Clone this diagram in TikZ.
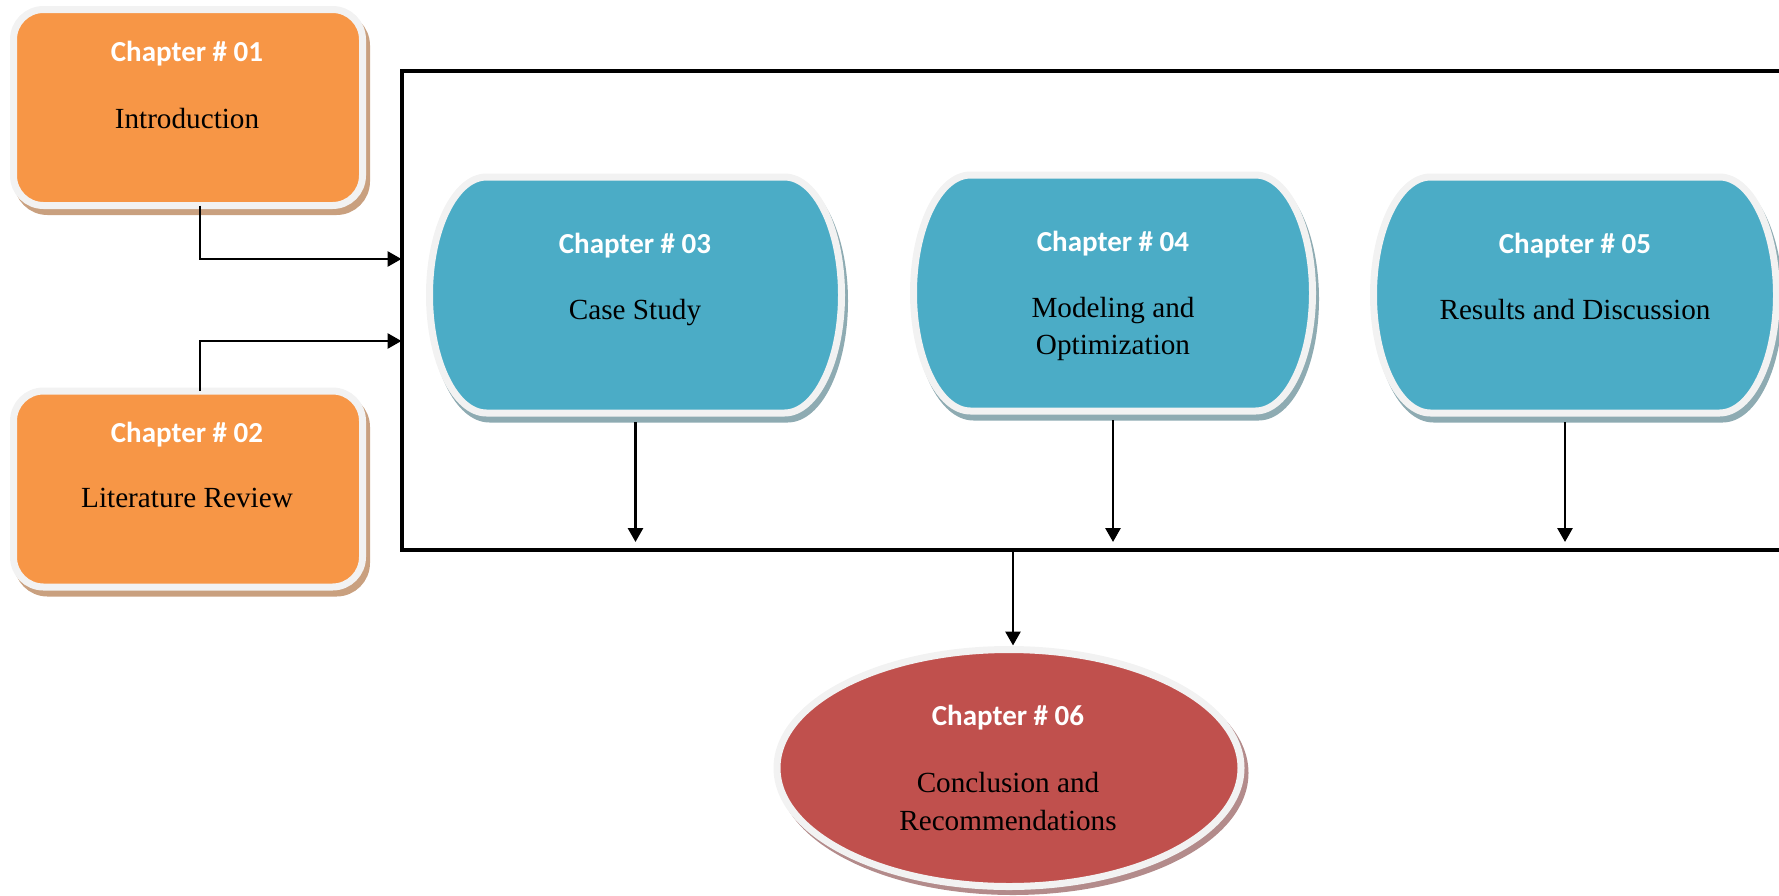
\documentclass[tikz,border=0pt]{standalone}
\usepackage{fontspec}
\setmainfont{Liberation Serif}
\newfontfamily\chapfont{Carlito}
\usetikzlibrary{arrows.meta,calc,shapes.geometric}
\pgfdeclarelayer{background}
\pgfsetlayers{background,main}

\definecolor{orangefill}{HTML}{F79646}
\definecolor{orangeshadow}{HTML}{C9A07F}
\definecolor{bluefill}{HTML}{4BACC6}
\definecolor{blueshadow}{HTML}{8EABB2}
\definecolor{redfill}{HTML}{C0504D}
\definecolor{redshadow}{HTML}{B38B8B}
\definecolor{ringgray}{HTML}{F2F2F2}

% capsule outline: flat top and bottom, half-elliptic sides
\def\crx{57}
\def\crh{118}
\def\ck{0.5523}
\newcommand\capsule[1]{%
  ($(#1.north west)+(\crx,0)$) -- ($(#1.north east)+(-\crx,0)$)
  .. controls ($(#1.north east)+(-\crx+\ck*\crx,0)$) and ($(#1.east)+(0,-\ck*\crh)$) .. (#1.east)
  .. controls ($(#1.east)+(0,\ck*\crh)$) and ($(#1.south east)+(-\crx+\ck*\crx,0)$) .. ($(#1.south east)+(-\crx,0)$)
  -- ($(#1.south west)+(\crx,0)$)
  .. controls ($(#1.south west)+(\crx-\ck*\crx,0)$) and ($(#1.west)+(0,\ck*\crh)$) .. (#1.west)
  .. controls ($(#1.west)+(0,-\ck*\crh)$) and ($(#1.north west)+(\crx-\ck*\crx,0)$) .. cycle}

\begin{document}
\begin{tikzpicture}[x=0.5pt,y=-0.5pt,
  slot/.style={draw=none, inner sep=0pt, outer sep=0pt, rectangle},
  ring/.style={draw=ringgray, line width=3.5pt},
  chap/.style={font=\chapfont\bfseries\fontsize{14.5}{17}\selectfont, text=white, anchor=base, inner sep=0pt},
  body/.style={font=\fontsize{14.6}{18}\selectfont, anchor=base, inner sep=0pt},
  conn/.style={line width=1.4pt, -{Triangle[length=7pt,width=7.5pt]}},
]
\useasboundingbox (0,0) rectangle (1779,895);

% frame around chapters 3 to 5
\node[slot, draw=black, line width=2pt, minimum width=699.25pt, minimum height=239.4pt] (fr) at (1100.75,310.65) {};

% chapter shapes
\node[slot, minimum width=174.5pt, minimum height=98pt] (b1) at (188,107.5) {};
\node[slot, minimum width=174.5pt, minimum height=98pt] (b2) at (188,489) {};
\node[slot, minimum width=206pt, minimum height=118pt] (c3) at (635.5,295) {};
\node[slot, minimum width=199.5pt, minimum height=118pt] (c4) at (1113,293) {};
\node[slot, minimum width=201.5pt, minimum height=118pt] (c5) at (1575,295) {};
\node[slot, shape=ellipse, minimum width=232pt, minimum height=118.5pt] (c6) at (1009,768) {};

% labels
\node[chap] (t1) at (187,61) {Chapter \# 01};
\node[body] (s1) at (187,128.5) {Introduction};
\node[chap] (t2) at (187,442) {Chapter \# 02};
\node[body] (s2) at (187,507) {Literature Review};
\node[chap] (t3) at (635,253) {Chapter \# 03};
\node[body] (s3) at (635,319) {Case Study};
\node[chap] (t4) at (1113,251) {Chapter \# 04};
\node[body] (s4a) at (1113,317) {Modeling and};
\node[body] (s4b) at (1113,354) {Optimization};
\node[chap] (t5) at (1575,253) {Chapter \# 05};
\node[body] (s5) at (1575,319) {Results and Discussion};
\node[chap] (t6) at (1008,725) {Chapter \# 06};
\node[body] (s6a) at (1008,792) {Conclusion and};
\node[body] (s6b) at (1008,830) {Recommendations};

\begin{pgfonlayer}{background}
  % drop shadows
  \begin{scope}[transform canvas={xshift=2pt,yshift=-3pt}]
    \draw[draw=orangeshadow, fill=orangeshadow, line width=3.5pt, rounded corners=15pt] (b1.north west) rectangle (b1.south east);
    \draw[draw=orangeshadow, fill=orangeshadow, line width=3.5pt, rounded corners=15pt] (b2.north west) rectangle (b2.south east);
  \end{scope}
  \begin{scope}[transform canvas={xshift=1.5pt,yshift=-3pt}]
    \draw[draw=blueshadow, fill=blueshadow, line width=3.5pt] \capsule{c3};
    \draw[draw=blueshadow, fill=blueshadow, line width=3.5pt] \capsule{c4};
    \draw[draw=blueshadow, fill=blueshadow, line width=3.5pt] \capsule{c5};
  \end{scope}
  \begin{scope}[transform canvas={xshift=2pt,yshift=-2.5pt}]
    \draw[draw=redshadow, fill=redshadow, line width=3.5pt] (c6.center) ellipse [x radius=116pt, y radius=59.25pt];
  \end{scope}
  % filled shapes with light rims
  \draw[ring, fill=orangefill, rounded corners=15pt] (b1.north west) rectangle (b1.south east);
  \draw[ring, fill=orangefill, rounded corners=15pt] (b2.north west) rectangle (b2.south east);
  \draw[ring, fill=bluefill] \capsule{c3};
  \draw[ring, fill=bluefill] \capsule{c4};
  \draw[ring, fill=bluefill] \capsule{c5};
  \draw[ring, fill=redfill] (c6.center) ellipse [x radius=116pt, y radius=59.25pt];
\end{pgfonlayer}

% free ends of the arrows
\coordinate (e3) at (635.5,542);
\coordinate (e4) at (1113,542);
\coordinate (e5) at (1565,542);
\coordinate (e6) at (1013,550);

% connectors
\draw[conn] ([xshift=6pt]b1.south) |- (fr.west |- 0,259);
\draw[conn] ([xshift=6pt]b2.north) |- (fr.west |- 0,341);
\draw[conn] ([yshift=-4.5pt]c3.south) -- (e3);
\draw[conn] ([yshift=-4.5pt]c4.south) -- (e4);
\draw[conn] ([xshift=-5pt,yshift=-4.5pt]c5.south) -- (e5);
\draw[conn] (e6) -- ([xshift=2pt,yshift=2pt]c6.north);
\end{tikzpicture}
\end{document}
